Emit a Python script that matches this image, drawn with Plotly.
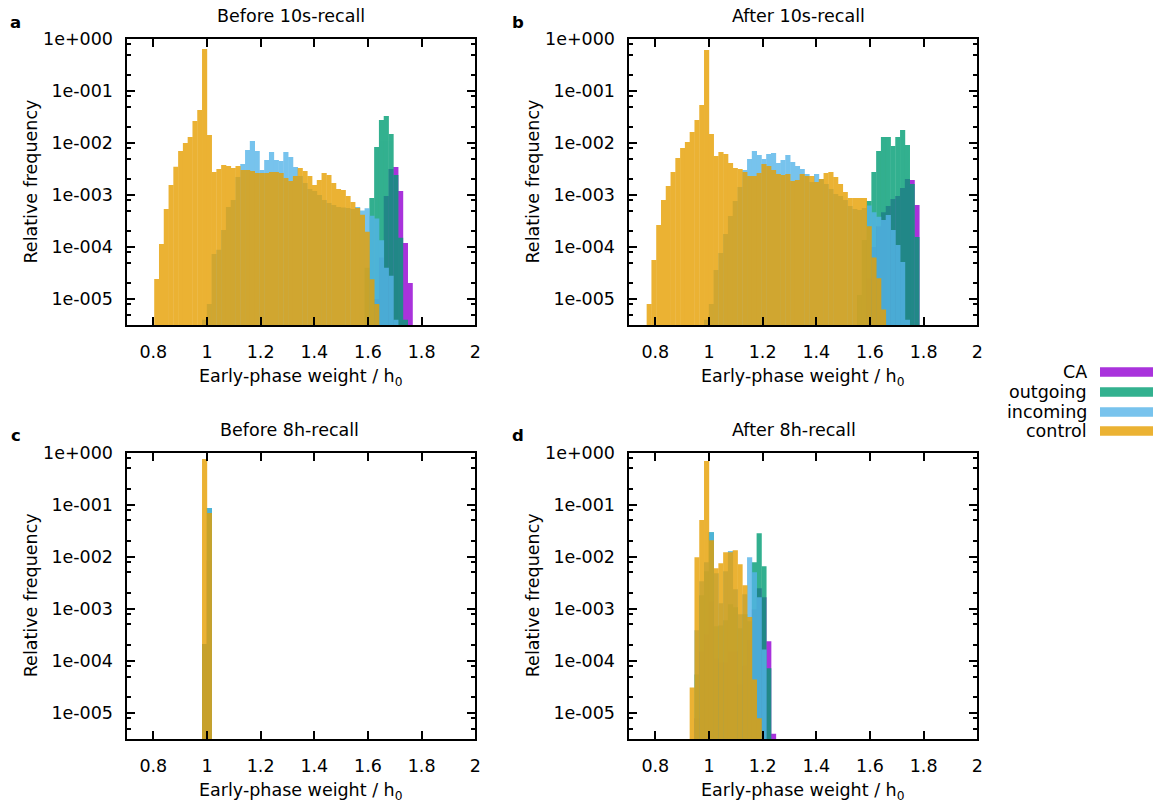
import plotly.graph_objects as go

# ---------------- data ----------------
bin_centers = [0.7773, 0.7951, 0.8129, 0.8307, 0.8485, 0.8664, 0.8842, 0.9020, 0.9198, 0.9376,
               0.9555, 0.9733, 0.9911, 1.0089, 1.0267, 1.0446, 1.0624, 1.0802, 1.0980, 1.1158,
               1.1337, 1.1515, 1.1693, 1.1871, 1.2049, 1.2228, 1.2406, 1.2584, 1.2762, 1.2940,
               1.3119, 1.3297, 1.3475, 1.3653, 1.3831, 1.4010, 1.4188, 1.4366, 1.4544, 1.4722,
               1.4901, 1.5079, 1.5257, 1.5435, 1.5613, 1.5792, 1.5970, 1.6148, 1.6326, 1.6504,
               1.6683, 1.6861, 1.7039, 1.7217, 1.7395, 1.7574, 1.7752]
bin_width = 0.01782

series_names = ["CA", "outgoing", "incoming", "control"]
panel_titles = ["Before 10s-recall", "After 10s-recall", "Before 8h-recall", "After 8h-recall"]
panel_letters = ["a", "b", "c", "d"]

x_tick_vals = [0.8, 1.0, 1.2, 1.4, 1.6, 1.8, 2.0]
x_tick_text = ["0.8", "1", "1.2", "1.4", "1.6", "1.8", "2"]
y_tick_vals = [1, 1e-1, 1e-2, 1e-3, 1e-4, 1e-5]
y_tick_text = ["1e+000", "1e-001", "1e-002", "1e-003", "1e-004", "1e-005"]

# panel a: Before 10s-recall  (first bin index into bin_centers, values)
a_control_first = 2
a_control = [2.43e-5, 1.14e-4, 5.38e-4, 1.56e-3, 3.51e-3, 7.02e-3, 1.00e-2, 1.30e-2, 2.65e-2, 4.32e-2,
             0.643, 1.43e-2, 2.77e-3, 3.16e-3, 3.78e-3, 3.61e-3, 3.30e-3, 3.61e-3, 3.03e-3, 3.03e-3,
             2.90e-3, 2.65e-3, 2.65e-3, 2.65e-3, 2.77e-3, 2.77e-3, 2.65e-3, 2.12e-3, 1.86e-3, 2.32e-3,
             3.30e-3, 2.90e-3, 2.32e-3, 1.56e-3, 1.94e-3, 2.65e-3, 2.43e-3, 1.70e-3, 1.30e-3, 1.25e-3,
             9.57e-4, 7.33e-4, 5.62e-4, 4.17e-4, 1.97e-4, 2.40e-5, 8.0e-6]
a_incoming_first = 12
a_incoming = [4.0e-6, 8.0e-6, 7.33e-5, 8.9e-5, 2.12e-4, 5.87e-4, 8.02e-4, 2.22e-3, 3.94e-3, 7.33e-3,
              1.09e-2, 7.02e-3, 3.03e-3, 4.71e-3, 6.71e-3, 4.71e-3, 4.51e-3, 6.71e-3, 5.38e-3, 3.45e-3,
              2.32e-3, 1.70e-3, 1.30e-3, 1.19e-3, 1.00e-3, 8.02e-4, 7.02e-4, 6.43e-4, 5.87e-4, 5.75e-4,
              5.62e-4, 5.37e-4, 5.89e-4, 5.01e-4, 5.55e-4, 3.98e-4, 3.55e-4, 1.35e-4, 4.01e-5, 2.81e-5,
              4.0e-6]
a_outgoing_first = 46
a_outgoing = [3.98e-5, 8.75e-4, 8.38e-3, 2.77e-2, 3.30e-2, 1.49e-2, 2.43e-3, 1.51e-4, 4.0e-6]
a_ca_first = 48
a_ca = [1.0e-5, 6.3e-5, 9.57e-4, 3.16e-3, 3.45e-3, 1.19e-3, 1.19e-4, 2.03e-5]

# panel b: After 10s-recall
b_control_first = 0
b_control = [8.0e-6, 5.62e-5, 2.65e-4, 8.02e-4, 1.49e-3, 2.77e-3, 5.15e-3, 8.02e-3, 1.04e-2, 1.63e-2,
             2.77e-2, 5.38e-2, 0.614, 1.49e-2, 5.62e-3, 6.71e-3, 6.14e-3, 4.12e-3, 3.30e-3, 3.16e-3,
             2.77e-3, 2.32e-3, 2.32e-3, 2.65e-3, 3.94e-3, 3.61e-3, 3.03e-3, 2.54e-3, 2.43e-3, 2.54e-3,
             1.86e-3, 1.94e-3, 2.54e-3, 2.32e-3, 2.32e-3, 1.78e-3, 2.03e-3, 2.65e-3, 2.77e-3, 2.22e-3,
             1.63e-3, 1.14e-3, 8.75e-4, 8.75e-4, 8.75e-4, 8.75e-4, 2.51e-4, 6.31e-5, 2.51e-5, 6.3e-6]
b_incoming_first = 12
b_incoming = [4.0e-6, 8.0e-6, 3.61e-5, 7.67e-5, 1.78e-4, 3.94e-4, 7.67e-4, 1.43e-3, 3.03e-3, 4.92e-3,
              7.02e-3, 5.87e-3, 4.92e-3, 6.14e-3, 6.43e-3, 4.12e-3, 4.71e-3, 5.87e-3, 4.32e-3, 3.61e-3,
              3.16e-3, 2.54e-3, 1.78e-3, 2.54e-3, 2.03e-3, 1.63e-3, 1.30e-3, 1.04e-3, 9.57e-4, 8.02e-4,
              6.14e-4, 5.38e-4, 5.15e-4, 5.62e-4, 6.31e-4, 4.68e-4, 3.80e-4, 3.31e-4, 4.12e-4, 2.12e-4,
              1.09e-4, 5.15e-5, 4.0e-6]
b_outgoing_first = 44
b_outgoing = [1.2e-5, 1.36e-4, 7.67e-4, 2.77e-3, 7.02e-3, 1.30e-2, 1.30e-2, 8.75e-3, 1.30e-2, 1.78e-2,
              9.16e-3, 1.63e-3, 1.56e-4]
b_ca_first = 46
b_ca = [2.5e-5, 1.0e-4, 2.5e-4, 4.68e-4, 6.14e-4, 8.38e-4, 9.57e-4, 1.36e-3, 2.03e-3, 1.94e-3, 6.43e-4]

# panel c: Before 8h-recall
c_first = 12
c_control = [0.750, 0.0687]
c_incoming = [2.1e-4, 0.0857]
c_outgoing = [2.1e-4, 0.0857]
c_ca = [2.1e-4, 8.5e-3]

# panel d: After 8h-recall
d_control_first = 9
d_control = [3.09e-5, 9.77e-3, 5.04e-2, 0.687, 2.07e-2, 6.01e-3, 7.50e-3, 1.22e-2, 1.22e-2, 1.33e-2,
             7.18e-3, 2.83e-3, 6.92e-4, 4.37e-5, 7.9e-6]
d_incoming_first = 10
d_incoming = [3.89e-4, 3.38e-3, 7.83e-3, 2.96e-2, 4.82e-3, 1.28e-3, 5.26e-3, 1.28e-2, 2.37e-3, 7.83e-4,
              1.90e-3, 9.77e-3, 5.04e-3, 1.66e-3, 1.66e-4]
d_outgoing_first = 10
d_outgoing = [5.5e-5, 1.82e-3, 5.26e-3, 2.96e-2, 4.60e-4, 4.79e-4, 6.03e-4, 1.22e-3, 1.07e-3, 4.22e-4,
              7.83e-4, 5.75e-4, 7.83e-3, 2.83e-2, 6.56e-3, 7.18e-5]
d_ca_first = 10
d_ca = [7.9e-6, 1.51e-4, 3.24e-4, 1.39e-3, 1.12e-4, 9.3e-5, 9.3e-5, 1.51e-4, 1.51e-4, 3.55e-5,
        8.1e-5, 2.51e-4, 9.77e-4, 2.48e-3, 1.66e-3, 2.37e-4, 4.0e-6]

# ---------------- styling / layout ----------------
W, H = 1154, 803
FONT = "DejaVu Sans"
FS = 17.5
colors = {"CA": "#9400D3", "outgoing": "#009E73", "incoming": "#56B4E9", "control": "#E69F00"}
legend_fill = {"CA": "rgba(148,0,211,0.8)", "outgoing": "rgba(0,158,115,0.8)",
               "incoming": "rgba(86,180,233,0.8)", "control": "rgba(230,159,0,0.8)"}
BAR_OVERLAP = 1.08  # slight overlap so adjacent bins leave no anti-aliasing seams

# plot areas in pixels: (left, right, top, bottom)
areas = [(126.5, 475.3, 39, 325), (628.5, 977.3, 39, 325),
         (126.5, 475.3, 452.5, 739), (628.5, 977.3, 452.5, 739)]
title_x = [290.5, 798.5, 289.5, 793.5]

panel_data = [
    {"CA": (a_ca_first, a_ca), "outgoing": (a_outgoing_first, a_outgoing),
     "incoming": (a_incoming_first, a_incoming), "control": (a_control_first, a_control)},
    {"CA": (b_ca_first, b_ca), "outgoing": (b_outgoing_first, b_outgoing),
     "incoming": (b_incoming_first, b_incoming), "control": (b_control_first, b_control)},
    {"CA": (c_first, c_ca), "outgoing": (c_first, c_outgoing),
     "incoming": (c_first, c_incoming), "control": (c_first, c_control)},
    {"CA": (d_ca_first, d_ca), "outgoing": (d_outgoing_first, d_outgoing),
     "incoming": (d_incoming_first, d_incoming), "control": (d_control_first, d_control)},
]

minor_vals = []
for e in range(-6, 0):
    for m in (2, 5, 8):
        minor_vals.append(m * 10.0 ** e)

fig = go.Figure()
layout = dict(width=W, height=H, margin=dict(l=0, r=0, t=0, b=0), template="none",
              paper_bgcolor="white", plot_bgcolor="white", barmode="overlay", showlegend=False,
              font=dict(family=FONT, size=FS, color="black"))

annotations = []
shapes = []

for p in range(4):
    sfx = "" if p == 0 else str(p + 1)
    for name in series_names:
        first, vals = panel_data[p][name]
        xs = bin_centers[first:first + len(vals)]
        fig.add_trace(go.Bar(x=xs, y=vals, width=bin_width * BAR_OVERLAP, name=name,
                             marker=dict(color=colors[name], line=dict(width=0)),
                             opacity=0.8, xaxis="x" + sfx, yaxis="y" + sfx,
                             hoverinfo="x+y+name"))
    l, r, t, b = areas[p]
    layout["xaxis" + sfx] = dict(domain=[l / W, r / W], range=[0.7, 2.0], anchor="y" + sfx,
                                 tickmode="array", tickvals=x_tick_vals, ticktext=x_tick_text,
                                 ticks="inside", ticklen=8, tickwidth=1.5, tickcolor="black",
                                 showline=True, linewidth=2, linecolor="black", mirror="allticks",
                                 showgrid=False, zeroline=False, automargin=False,
                                 ticklabelstandoff=10,
                                 tickfont=dict(family=FONT, size=FS, color="black"))
    layout["yaxis" + sfx] = dict(domain=[1 - b / H, 1 - t / H], type="log", range=[-5.5, 0],
                                 anchor="x" + sfx, tickmode="array", tickvals=y_tick_vals,
                                 ticktext=y_tick_text, ticks="inside", ticklen=8, tickwidth=1.5,
                                 tickcolor="black", showline=True, linewidth=2, linecolor="black",
                                 mirror="allticks", showgrid=False, zeroline=False, automargin=False,
                                 ticklabelstandoff=8,
                                 minor=dict(tickmode="array", tickvals=minor_vals, ticks="inside",
                                            ticklen=4, tickwidth=1.5, tickcolor="black", showgrid=False),
                                 tickfont=dict(family=FONT, size=FS, color="black"))
    # panel title
    annotations.append(dict(text=panel_titles[p], x=title_x[p] / W, y=1 - (t - 23) / H,
                            xref="paper", yref="paper", xanchor="center", yanchor="middle",
                            showarrow=False, font=dict(family=FONT, size=FS, color="black")))
    # panel letter
    annotations.append(dict(text="<b>" + panel_letters[p] + "</b>", x=(l - 111) / W, y=1 - (t - 17) / H,
                            xref="paper", yref="paper", xanchor="center", yanchor="middle",
                            showarrow=False, font=dict(family=FONT, size=FS - 1, color="black")))
    # axis titles
    annotations.append(dict(text="Early-phase weight / h<sub>0</sub>", x=(l + r) / 2 / W,
                            y=1 - (b + 52) / H, xref="paper", yref="paper",
                            xanchor="center", yanchor="middle", showarrow=False,
                            font=dict(family=FONT, size=FS, color="black")))
    annotations.append(dict(text="Relative frequency", x=(l - 96) / W, y=1 - ((t + b) / 2) / H,
                            xref="paper", yref="paper", xanchor="center", yanchor="middle",
                            textangle=-90, showarrow=False,
                            font=dict(family=FONT, size=FS, color="black")))

# custom legend (text on the left, swatch on the right)
legend_rows_y = [372, 392, 412, 431]
for name, yc in zip(series_names, legend_rows_y):
    annotations.append(dict(text=name, x=1089 / W, y=1 - yc / H, xref="paper", yref="paper",
                            xanchor="right", yanchor="middle", showarrow=False,
                            font=dict(family=FONT, size=FS, color="black")))
    shapes.append(dict(type="rect", xref="paper", yref="paper",
                       x0=1100 / W, x1=1153 / W, y0=1 - (yc + 4.7) / H, y1=1 - (yc - 4.7) / H,
                       fillcolor=legend_fill[name], line=dict(width=0)))

layout["annotations"] = annotations
layout["shapes"] = shapes
fig.update_layout(**layout)
fig.write_html("out.html")
